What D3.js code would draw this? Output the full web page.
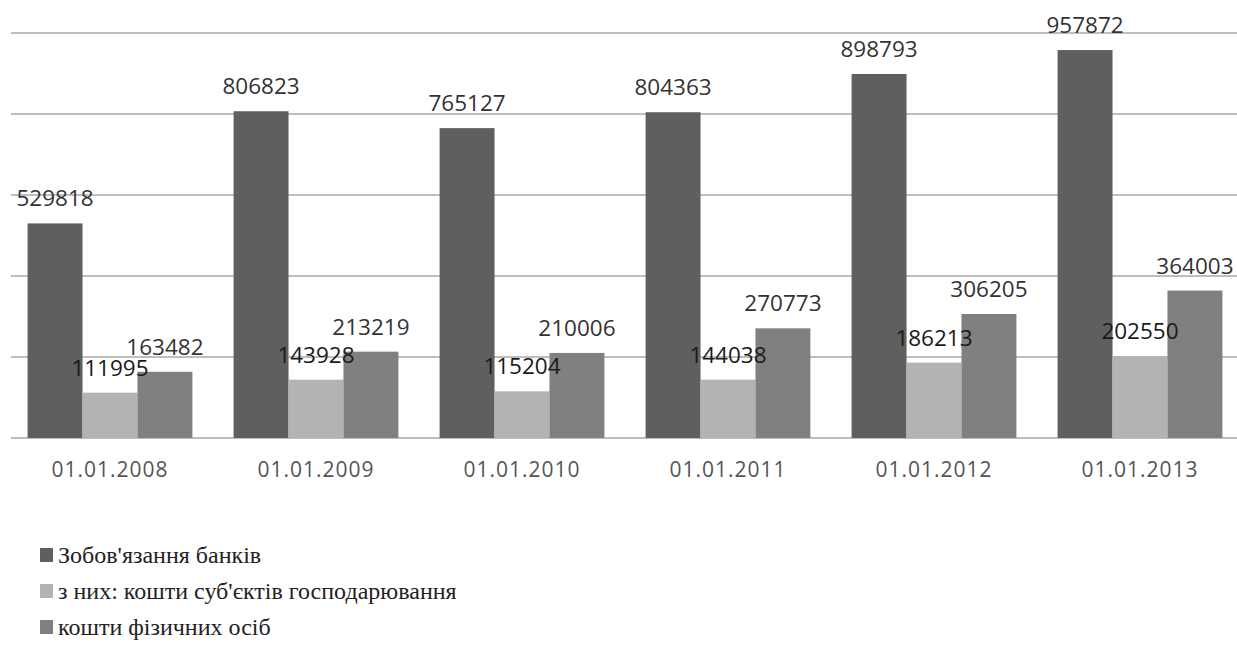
<!DOCTYPE html>
<html>
<head>
<meta charset="utf-8">
<script src="https://cdn.jsdelivr.net/npm/d3@7"></script>
<style>
  body { margin: 0; background: #fff; }
  svg { display: block; }
  .legend-label { font-family: "Times New Roman", Tinos, "Liberation Serif", "DejaVu Serif", "Noto Serif", serif; }
  .num-label { font-family: "Open Sans", sans-serif; }
</style>
</head>
<body>
<div class="container"></div>
<script>
(function() {
  // chart data
  var categories = ['01.01.2008', '01.01.2009', '01.01.2010', '01.01.2011', '01.01.2012', '01.01.2013'];
  var seriesNames = ["Зобов'язання банків", "з них: кошти суб'єктів господарювання", 'кошти фізичних осіб'];
  var banks = [529818, 806823, 765127, 804363, 898793, 957872];
  var business = [111995, 143928, 115204, 144038, 186213, 202550];
  var persons = [163482, 213219, 210006, 270773, 306205, 364003];
  var gridTicks = [0, 200000, 400000, 600000, 800000, 1000000];

  var opts = {
    width: 1237,
    height: 647,
    colors: ['#5f5f5f', '#b3b3b3', '#808080']
  };

  var series = [banks, business, persons];

  var svg = d3.select('div.container').append('svg')
    .attr('width', opts.width)
    .attr('height', opts.height);

  var x = d3.scaleBand().domain(categories).range([7, 1243]).paddingInner(0.2).paddingOuter(0.1);
  var xi = d3.scaleBand().domain(d3.range(series.length)).range([0, x.bandwidth()]);
  var y = d3.scaleLinear().domain([0, 1000000]).range([438, 33]);

  // gridlines
  svg.append('g').selectAll('line')
    .data(gridTicks)
    .enter().append('line')
    .attr('x1', 11).attr('x2', opts.width)
    .attr('y1', function(d) { return y(d); })
    .attr('y2', function(d) { return y(d); })
    .attr('stroke', '#a8a8a8')
    .attr('stroke-width', 1.6);

  // bars
  series.forEach(function(vals, si) {
    svg.append('g').selectAll('rect')
      .data(vals)
      .enter().append('rect')
      .attr('x', function(d, i) { return x(categories[i]) + xi(si); })
      .attr('y', function(d) { return y(d); })
      .attr('width', xi.bandwidth())
      .attr('height', function(d) { return y(0) - y(d); })
      .attr('fill', opts.colors[si]);
  });

  // value labels
  series.forEach(function(vals, si) {
    svg.append('g').selectAll('text')
      .data(vals)
      .enter().append('text')
      .attr('class', 'num-label')
      .attr('x', function(d, i) { return x(categories[i]) + xi(si) + xi.bandwidth() / 2; })
      .attr('y', function(d) { return y(d) - 17; })
      .attr('text-anchor', 'middle')
      .attr('font-size', 22.5)
      .attr('fill', si === 1 ? '#1a1a1a' : '#333')
      .text(function(d) { return d; });
  });

  // category axis labels
  var xAxis = d3.axisBottom(x).tickSize(0).tickPadding(0);
  var ax = svg.append('g').attr('transform', 'translate(0,' + 462 + ')').call(xAxis);
  ax.select('.domain').remove();
  ax.selectAll('text')
    .attr('class', 'num-label')
    .attr('font-family', null)
    .attr('font-size', 21)
    .attr('fill', '#555')
    .attr('letter-spacing', 1)
    .attr('dy', '0.71em');

  // legend
  var legend = svg.append('g').selectAll('g')
    .data(seriesNames)
    .enter().append('g')
    .attr('transform', function(d, i) { return 'translate(40,' + (548 + i * 36) + ')'; });
  legend.append('rect')
    .attr('width', 13).attr('height', 14)
    .attr('fill', function(d, i) { return opts.colors[i]; });
  legend.append('text')
    .attr('class', 'legend-label')
    .attr('x', 18).attr('y', 15)
    .attr('font-size', 24)
    .attr('fill', '#222')
    .style('font-family', '"Times New Roman", "Liberation Serif", serif')
    .text(function(d) { return d; });
}).call(this);
</script>
</body>
</html>
